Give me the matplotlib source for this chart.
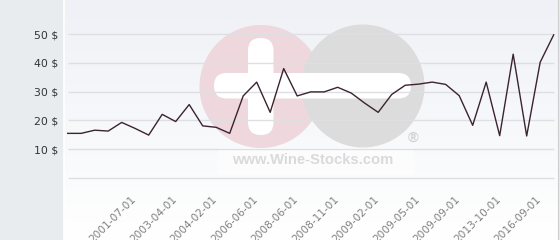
import numpy as np
import matplotlib
matplotlib.use("Agg")
import matplotlib.pyplot as plt
from matplotlib.patches import Circle, FancyBboxPatch

# price per bottle, one value per auction date (equally spaced categories)
prices = [15.5, 15.5, 16.6, 16.3, 19.3, 17.2, 14.9, 22.1, 19.6, 25.5,
          18.1, 17.6, 15.5, 28.5, 33.3, 22.8, 38.0, 28.5, 29.9, 29.9,
          31.5, 29.5, 26.0, 22.8, 29.0, 32.2, 32.6, 33.3, 32.5, 28.6,
          18.3, 33.3, 14.7, 43.0, 14.6, 40.2, 49.7]
tick_labels = ["2001-07-01", "2003-04-01", "2004-02-01", "2006-06-01",
               "2008-06-01", "2008-11-01", "2009-02-01", "2009-05-01",
               "2009-09-01", "2013-10-01", "2016-09-01"]
y_ticks = [10, 20, 30, 40, 50]
grid_vals = [0, 10, 20, 30, 40, 50]

fig = plt.figure(figsize=(5.6, 2.4), dpi=100)
fig.patch.set_facecolor("#e8ecef")
ax = fig.add_axes([64 / 560, 0, (558 - 64) / 560, 1])

x0, x1, y0, y1 = -0.274, 36.32, -21.53, 61.81

# plot background gradient (light blue-grey at top to white at bottom)
grad = np.linspace(0, 1, 256).reshape(-1, 1)
top = np.array([0.937, 0.945, 0.965])
bot = np.array([1.0, 1.0, 1.0])
img = top + (bot - top) * grad[..., None]
ax.imshow(img, extent=[x0, x1, y0, y1], aspect="auto", origin="upper", zorder=0)
ax.set_xlim(x0, x1)
ax.set_ylim(y0, y1)


def px(x, y):
    return (x / 100, (240 - y) / 100)


tr = fig.dpi_scale_trans
# watermark
ax.add_patch(Circle(px(261, 86.5), 0.615, transform=tr, color="#eed8dd", zorder=1, lw=0))
ax.add_patch(Circle(px(363, 86), 0.615, transform=tr, color="#dcdcdc", zorder=1, lw=0))
ax.add_patch(FancyBboxPatch(px(214, 98.5), 1.97, 0.255, transform=tr,
                            boxstyle="round,pad=0,rounding_size=0.127",
                            fc="white", ec="none", zorder=1))
ax.add_patch(FancyBboxPatch(px(248, 135), 0.255, 0.97, transform=tr,
                            boxstyle="round,pad=0,rounding_size=0.127",
                            fc="white", ec="none", zorder=1))
ax.add_patch(FancyBboxPatch(px(218, 174), 1.96, 0.26, transform=tr,
                            boxstyle="square,pad=0", fc="white", ec="none",
                            alpha=0.5, zorder=1))
ax.text(*px(313, 160), "www.Wine-Stocks.com", transform=tr, ha="center",
        va="center", fontsize=10.6, fontweight="bold", family="Liberation Sans",
        color="#dadada", zorder=1)
ax.text(*px(413, 138), "®", transform=tr, ha="center", va="center",
        fontsize=10.5, fontweight="bold", family="Liberation Sans",
        color="#d2d2d2", zorder=1)

# grid lines
ax.hlines(grid_vals, 0, 36.05, colors="#dedfe2", lw=1, zorder=2)

x = np.arange(len(prices))
ax.plot(x, prices, color="#3b2330", lw=1.0, zorder=3)

# axes styling
for s in ["top", "bottom"]:
    ax.spines[s].set_visible(False)
ax.spines["right"].set_color("#cfcfcf")
ax.spines["left"].set_color("white")
ax.spines["left"].set_linewidth(1.2)

ax.set_yticks(y_ticks)
ax.set_yticklabels([f"{v} $" for v in y_ticks], fontsize=7.8, color="#333333")
ax.tick_params(axis="y", length=0, pad=4)
ax.set_xticks([])

tick_pos = range(4, len(prices), 3)
for i, lab in zip(tick_pos, tick_labels):
    ax.text(i + 0.68, -5.6, lab, rotation=45, ha="right", va="top",
            rotation_mode="anchor", fontsize=7.6, color="#808080", zorder=3)

fig.savefig("out.png", dpi=100, facecolor=fig.get_facecolor())
